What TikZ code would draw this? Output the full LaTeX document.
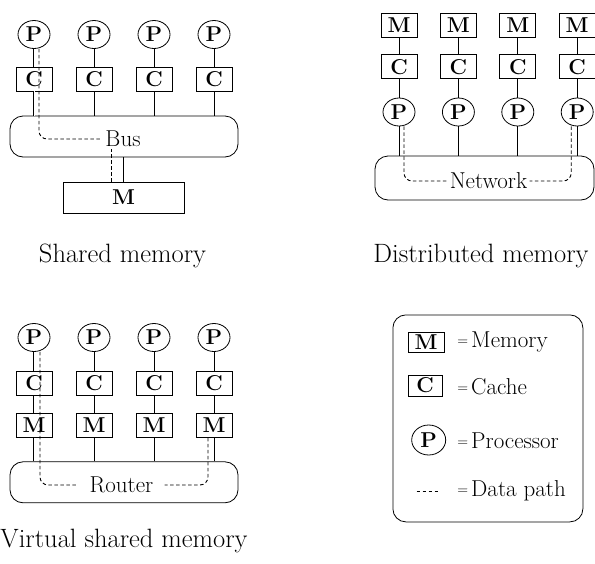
\documentclass[tikz,border=0pt]{standalone}
\usetikzlibrary{shapes.geometric}

\newcommand{\capfont}{\fontsize{26.5}{30}\selectfont}
\newcommand{\lblfont}{\fontsize{23}{27}\selectfont}
\newcommand{\legfont}{\fontsize{23}{27}\selectfont}
\newcommand{\letfont}{\fontsize{21.5}{24}\selectfont\bfseries}
\newcommand{\eqsign}{{\fontsize{15}{15}\selectfont\raisebox{1.5pt}{=}}\hspace{3pt}}

\begin{document}
\begin{tikzpicture}[
  x=1pt, y=-1pt, line width=0.8pt,
  proc/.style={ellipse, draw, minimum width=32pt, minimum height=28pt,
               inner sep=0pt, font=\letfont},
  unit/.style={rectangle, draw, minimum width=36pt, minimum height=24pt,
               inner sep=0pt, font=\letfont},
  hub/.style={draw, rounded corners=13pt, minimum width=228pt, minimum height=41pt},
  hublbl/.style={font=\lblfont, inner sep=2pt},
  capt/.style={font=\capfont, anchor=base, inner sep=0pt},
  legtxt/.style={font=\legfont, anchor=base west, inner sep=0pt},
  datapath/.style={dash pattern=on 3.5pt off 2.5pt, line width=0.9pt, rounded corners=8pt},
  twin/.style={double, double distance=1pt, line width=0.7pt},
]
\useasboundingbox (0,0) rectangle (595,563);

% ---- shared memory (top left) ----
\foreach \i/\x in {1/34,2/94,3/154,4/214}{
  \node[proc] (sP\i) at (\x,34.5) {P};
  \node[unit] (sC\i) at (\x,79) {C};
}
\node[hub] (bus) at (124,136.5) {};
\node[hublbl, inner xsep=5pt] (buslbl) at (123,139) {Bus};
\node[unit, minimum width=121pt, minimum height=31pt] (sM) at (123.5,197.5) {M};

\draw[twin] (sP1) -- (sC1);
\draw[twin] (sC1.south) -- (sC1.south |- bus.north);
\foreach \i in {2,3,4}{
  \draw (sP\i) -- (sC\i);
  \draw (sC\i.south) -- (sC\i.south |- bus.north);
}
\draw (sM.north) -- (sM.north |- bus.south);
\draw[datapath] ([xshift=5pt]sP1.south) |- (buslbl.west);
\draw[datapath] ([xshift=-12pt]sM.north) -- ([xshift=-12pt]sM.north |- buslbl.south);

\node[capt] (scap) at (122.5,262) {Shared memory};

% ---- distributed memory (top right) ----
\foreach \i/\x in {1/399,2/458.4,3/517.8,4/577.2}{
  \node[unit] (dM\i) at (\x,25.3) {M};
  \node[unit] (dC\i) at (\x,66.7) {C};
  \node[proc] (dP\i) at (\x,112) {P};
  \draw (dM\i) -- (dC\i);
  \draw (dC\i) -- (dP\i);
}
\node[hub, minimum width=219pt, minimum height=44pt] (net) at (484.5,178) {};
\node[hublbl] (netlbl) at (488.5,181) {Network};
\foreach \i in {1,...,4}{ \draw (dP\i.south) -- (dP\i.south |- net.north); }
\draw[datapath] ([xshift=5pt]dP1.south) |- (netlbl.west);
\draw[datapath] ([xshift=-6pt]dP4.south) |- (netlbl.east);

\node[capt] (dcap) at (481,262) {Distributed memory};

% ---- virtual shared memory (bottom left) ----
\foreach \i/\x in {1/34,2/94,3/154,4/214}{
  \node[proc] (vP\i) at (\x,337.5) {P};
  \node[unit] (vC\i) at (\x,383.5) {C};
  \node[unit] (vM\i) at (\x,425.5) {M};
}
\node[hub] (router) at (124,482.3) {};
\node[hublbl, inner xsep=11pt] (routerlbl) at (121.5,485) {Router};

\draw[twin] (vP1) -- (vC1);
\draw[twin] (vC1) -- (vM1);
\draw[twin] (vM1.south) -- (vM1.south |- router.north);
\foreach \i in {2,3,4}{
  \draw (vP\i) -- (vC\i);
  \draw (vC\i) -- (vM\i);
  \draw (vM\i.south) -- (vM\i.south |- router.north);
}
\draw[datapath] ([xshift=6pt]vP1.south) |- (routerlbl.west);
\draw[datapath] ([xshift=-6pt]vM4.south) |- (routerlbl.east);

\node[capt] (vcap) at (124,547) {Virtual shared memory};

% ---- legend (bottom right) ----
\node[draw, rounded corners=13pt, minimum width=190pt, minimum height=207pt] (legend) at (487.9,418.4) {};
\node[unit, minimum height=20pt] (lM) at (426,342) {M};
\node[unit, minimum width=34pt, minimum height=21pt] (lC) at (425,385.5) {C};
\node[proc, minimum width=34pt, minimum height=30pt] (lP) at (428.7,440) {P};
\coordinate (ldA) at (416.7,491);
\coordinate (ldB) at (440,491);
\draw[datapath] (ldA) -- (ldB);

\node[legtxt] (lMt) at (457,347) {\eqsign Memory};
\node[legtxt] (lCt) at (457,394) {\eqsign Cache};
\node[legtxt] (lPt) at (457,448) {\eqsign Processor};
\node[legtxt] (ldt) at (457,496) {\eqsign Data path};

\end{tikzpicture}
\end{document}
